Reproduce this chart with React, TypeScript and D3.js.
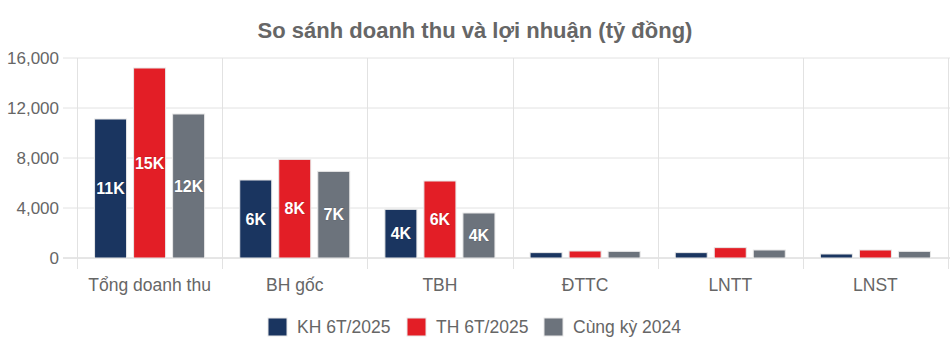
import React, { useEffect, useRef } from 'react';
import * as d3 from 'd3';

const categories = ['Tổng doanh thu', 'BH gốc', 'TBH', 'ĐTTC', 'LNTT', 'LNST'];
const seriesNames = ['KH 6T/2025', 'TH 6T/2025', 'Cùng kỳ 2024'];
const khValues = [11120, 6240, 3890, 430, 430, 320];
const thValues = [15200, 7890, 6160, 560, 830, 640];
const ckValues = [11520, 6930, 3600, 530, 640, 530];
const yTicks = [0, 4000, 8000, 12000, 16000];
const colors = ['#1a3560', '#e31e26', '#6c737c'];

const App = () => {
  const chartRef = useRef(null);

  useEffect(() => {
    const width = 950;
    const height = 352;
    const font = 'Liberation Sans, Arial, sans-serif';
    const left = 77;
    const right = 948;
    const top = 58;
    const bottom = 258;
    const series = [khValues, thValues, ckValues];

    const svg = d3.select(chartRef.current)
      .append('svg')
      .attr('width', width)
      .attr('height', height)
      .style('display', 'block');

    svg.append('text')
      .attr('x', width / 2)
      .attr('y', 38)
      .attr('text-anchor', 'middle')
      .attr('font-family', font)
      .attr('font-size', 22)
      .attr('font-weight', 'bold')
      .attr('fill', '#666')
      .text('So sánh doanh thu và lợi nhuận (tỷ đồng)');

    const xScale = d3.scaleBand()
      .domain(categories)
      .range([left, right])
      .padding(0);

    const xInner = d3.scaleBand()
      .domain(seriesNames)
      .range([0, xScale.bandwidth()])
      .paddingInner(0.18)
      .paddingOuter(0.45);

    const yScale = d3.scaleLinear()
      .domain([0, 16000])
      .range([bottom, top]);

    // horizontal grid
    svg.append('g')
      .selectAll('line')
      .data(yTicks)
      .enter()
      .append('line')
      .attr('x1', 63)
      .attr('x2', width)
      .attr('y1', (d) => yScale(d))
      .attr('y2', (d) => yScale(d))
      .attr('stroke', (d) => (d === 0 ? '#ccc' : '#e2e2e2'))
      .attr('stroke-width', 1);

    // vertical grid at category edges
    const edges = categories.map((c) => xScale(c)).concat([right]);
    svg.append('g')
      .selectAll('line')
      .data(edges)
      .enter()
      .append('line')
      .attr('x1', (d) => Math.round(d) + 0.5)
      .attr('x2', (d) => Math.round(d) + 0.5)
      .attr('y1', top)
      .attr('y2', 269)
      .attr('stroke', '#e2e2e2')
      .attr('stroke-width', 1);

    svg.append('g')
      .selectAll('text')
      .data(yTicks)
      .enter()
      .append('text')
      .attr('x', 59)
      .attr('y', (d) => yScale(d))
      .attr('dy', '0.35em')
      .attr('text-anchor', 'end')
      .attr('font-family', font)
      .attr('font-size', 17)
      .attr('fill', '#666')
      .text((d) => d3.format(',')(d));

    svg.append('g')
      .selectAll('text')
      .data(categories)
      .enter()
      .append('text')
      .attr('x', (d) => xScale(d) + xScale.bandwidth() / 2)
      .attr('y', 291)
      .attr('text-anchor', 'middle')
      .attr('font-family', font)
      .attr('font-size', 17.5)
      .attr('fill', '#666')
      .text((d) => d);

    series.forEach((vals, si) => {
      const g = svg.append('g');
      g.selectAll('rect')
        .data(vals)
        .enter()
        .append('rect')
        .attr('x', (d, i) => xScale(categories[i]) + xInner(seriesNames[si]))
        .attr('y', (d) => yScale(d))
        .attr('width', xInner.bandwidth())
        .attr('height', (d) => bottom - yScale(d))
        .attr('fill', colors[si])
        .attr('stroke', '#e8e8e8')
        .attr('stroke-width', 1);

      const labelled = vals
        .map((v, i) => ({ v, i }))
        .filter((d) => d.v > 2000);
      g.selectAll('text')
        .data(labelled)
        .enter()
        .append('text')
        .attr('x', (d) => xScale(categories[d.i]) + xInner(seriesNames[si]) + xInner.bandwidth() / 2)
        .attr('y', (d) => (yScale(d.v) + bottom) / 2)
        .attr('dy', '0.35em')
        .attr('text-anchor', 'middle')
        .attr('font-family', font)
        .attr('font-size', 16)
        .attr('font-weight', 'bold')
        .attr('fill', 'white')
        .attr('stroke', 'rgba(0,0,0,0.15)')
        .attr('stroke-width', 1)
        .attr('paint-order', 'stroke')
        .text((d) => Math.round(d.v / 1000) + 'K');
    });

    // legend
    const legendX = [268, 407, 544];
    const legend = svg.append('g');
    seriesNames.forEach((name, i) => {
      legend.append('rect')
        .attr('x', legendX[i])
        .attr('y', 318)
        .attr('width', 19)
        .attr('height', 18)
        .attr('fill', colors[i])
        .attr('stroke', '#e8e8e8')
        .attr('stroke-width', 1);
      legend.append('text')
        .attr('x', legendX[i] + 29)
        .attr('y', 327)
        .attr('dy', '0.35em')
        .attr('font-family', font)
        .attr('font-size', 17.5)
        .attr('fill', '#666')
        .text(name);
    });

    return () => {
      d3.select(chartRef.current).selectAll('svg').remove();
    };
  }, []);

  return <div style={{ position: 'absolute', left: 0, top: 0 }} ref={chartRef} />;
};

export default App;
